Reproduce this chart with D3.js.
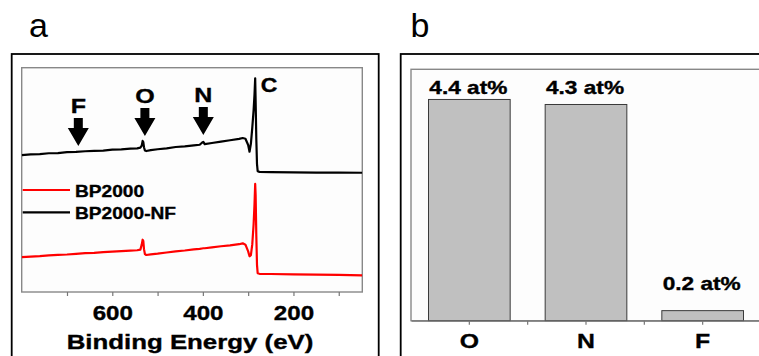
<!DOCTYPE html>
<html>
<head>
<meta charset="utf-8">
<script src="https://cdn.jsdelivr.net/npm/d3@7"></script>
<style>
  html, body { margin: 0; padding: 0; background: #fff; }
  svg { display: block; }
  text { font-family: "Liberation Sans", Arial, Helvetica, sans-serif; fill: #000; }
  text.heavy { stroke: #000; stroke-width: 0.35px; }
</style>
</head>
<body>
<svg id="fig" width="759" height="356"></svg>
<script>
// ---- XPS survey spectra (binding energy in eV, intensity in arbitrary units) ----
const energy = [800, 780, 760, 740, 720, 700, 680, 660, 640, 620, 600, 580, 560, 545, 538, 535, 533, 531.5, 530, 528, 525, 515, 500, 480, 460, 440, 420, 407, 402, 399, 396, 380, 360, 340, 320, 312, 306, 300, 297, 294, 291, 288, 286, 284.5, 283.5, 282, 280.5, 279, 275, 250, 200, 150, 100, 48];
const bp2000nf = [61.0, 61.3, 61.4, 61.8, 61.9, 62.3, 62.4, 62.7, 62.9, 63.0, 63.4, 63.5, 63.9, 64.0, 64.3, 65.2, 67.3, 66.8, 64.5, 63.0, 62.8, 63.2, 63.6, 64.0, 64.6, 64.9, 65.3, 65.6, 66.5, 66.9, 65.9, 66.4, 67.0, 67.6, 68.2, 68.6, 68.3, 65.5, 62.5, 66.0, 73.0, 81.0, 88.0, 95.3, 85.0, 68.0, 57.0, 53.8, 53.5, 53.4, 53.3, 53.2, 53.2, 53.1];
const bp2000 = [15.4, 15.7, 15.9, 16.2, 16.4, 16.6, 16.9, 17.2, 17.3, 17.7, 17.9, 18.1, 18.3, 18.5, 18.8, 21.0, 23.2, 22.6, 19.0, 16.8, 16.4, 16.7, 17.0, 17.5, 18.0, 18.4, 18.9, 19.1, 19.3, 19.4, 19.4, 19.8, 20.3, 20.7, 21.2, 21.6, 21.0, 18.0, 15.8, 16.3, 21.0, 30.0, 39.0, 48.1, 43.0, 25.0, 12.0, 8.3, 8.0, 7.9, 7.7, 7.6, 7.5, 7.3];
const seriesNames = ["BP2000", "BP2000-NF"];
const seriesColors = ["#ff0000", "#000000"];
const energyTicks = [700, 600, 500, 400, 300, 200, 100];
const energyTickLabels = ["", "600", "", "400", "", "200", ""];

// peak markers on the NF spectrum
const markerNames = ["F", "O", "N"];
const markerEnergy = [675, 528, 399];
const markerTip = [65.0, 69.5, 70.0];

// ---- surface composition of BP2000-NF ----
const elements = ["O", "N", "F"];
const atomicPct = [4.4, 4.3, 0.2];

const svg = d3.select("#fig");

// text with a horizontal stretch applied around its anchor
function label(g, str, x, y, opts) {
  const o = Object.assign({ size: 20, weight: "bold", anchor: "middle", sx: 1.2 }, opts || {});
  return g.append("text")
    .attr("class", o.weight === "bold" ? "heavy" : null)
    .attr("transform", `translate(${x},${y}) scale(${o.sx},1)`)
    .attr("text-anchor", o.anchor)
    .attr("font-size", o.size)
    .attr("font-weight", o.weight)
    .text(str);
}

// ================= panel a =================
const A = { left: 21.7, right: 362.3, top: 67.7, bottom: 292.0 };
const pa = svg.append("g");

pa.append("rect").attr("x", 11.7).attr("y", 54).attr("width", 367).attr("height", 400)
  .attr("fill", "#fff").attr("stroke", "#000").attr("stroke-width", 1.8);
pa.append("rect").attr("x", A.left).attr("y", A.top).attr("width", A.right - A.left).attr("height", A.bottom - A.top)
  .attr("fill", "#fdfdfd").attr("stroke", "#888").attr("stroke-width", 1.4);

const xA = d3.scaleLinear().domain([800, 48]).range([A.left, A.right]);
const yA = d3.scaleLinear().domain([0, 100]).range([291.7, 67.7]);

const axA = pa.append("g").attr("transform", `translate(0,${A.bottom})`)
  .call(d3.axisBottom(xA).tickValues(energyTicks).tickSize(4)
    .tickFormat((d, i) => energyTickLabels[i]));
axA.select(".domain").remove();
axA.selectAll(".tick line").attr("stroke", "#777").attr("stroke-width", 1.2);
axA.selectAll(".tick text")
  .attr("class", "heavy")
  .attr("y", 28).attr("dy", 0)
  .attr("font-size", 21).attr("font-weight", "bold")
  .attr("font-family", "Liberation Sans, Arial, sans-serif")
  .attr("fill", "#000")
  .attr("transform", "scale(1.15,1)");

label(pa, "Binding Energy (eV)", (A.left + A.right) / 2 - 2, 348.5, { size: 21, sx: 1.23 });

const line = d3.line().x((d, i) => xA(energy[i])).y(d => yA(d));
pa.append("clipPath").attr("id", "clipA").append("rect")
  .attr("x", A.left).attr("y", A.top).attr("width", A.right - A.left).attr("height", A.bottom - A.top);
const curves = pa.append("g").attr("clip-path", "url(#clipA)");
[bp2000, bp2000nf].forEach((s, k) => {
  curves.append("path").datum(s)
    .attr("d", line)
    .attr("fill", "none")
    .attr("stroke", seriesColors[k])
    .attr("stroke-width", 2.2)
    .attr("stroke-linejoin", "round");
});

// legend
const legY = [190, 212.3];
seriesNames.forEach((n, k) => {
  pa.append("line").attr("x1", 22.7).attr("x2", 70).attr("y1", legY[k]).attr("y2", legY[k])
    .attr("stroke", seriesColors[k]).attr("stroke-width", 2.2);
  label(pa, n, 75, legY[k] + 6.5, { size: 16.5, anchor: "start", sx: 1.16 });
});

// arrows pointing at F, O, N positions
markerNames.forEach((n, k) => {
  const cx = xA(markerEnergy[k]);
  const tip = yA(markerTip[k]);
  const headH = 18, shaftH = 10, headW = 21, shaftW = 9;
  const p = [
    [cx - shaftW / 2, tip - headH - shaftH], [cx + shaftW / 2, tip - headH - shaftH],
    [cx + shaftW / 2, tip - headH], [cx + headW / 2, tip - headH],
    [cx, tip], [cx - headW / 2, tip - headH], [cx - shaftW / 2, tip - headH]
  ];
  pa.append("path").attr("d", d3.line()(p) + "Z").attr("fill", "#000");
  label(pa, n, cx, tip - headH - shaftH - 5, { size: 20, sx: 1.25 });
});

// C 1s label next to the main peak
const cIdx = d3.maxIndex(bp2000nf);
label(pa, "C", xA(energy[cIdx]) + 5.5, yA(bp2000nf[cIdx]) + 14, { size: 20, anchor: "start", sx: 1.15 });

label(pa, "a", 38.5, 37, { size: 34, weight: "normal", sx: 1.0 });

// ================= panel b =================
const B = { left: 411, right: 761, top: 69.3, bottom: 320.7 };
const pb = svg.append("g");

pb.append("rect").attr("x", 400.7).attr("y", 54).attr("width", 400).attr("height", 400)
  .attr("fill", "#fff").attr("stroke", "#000").attr("stroke-width", 1.8);
pb.append("rect").attr("x", B.left).attr("y", B.top).attr("width", 400).attr("height", B.bottom - B.top)
  .attr("fill", "#fdfdfd").attr("stroke", "#888").attr("stroke-width", 1.4);

const xB = d3.scaleBand().domain(elements).range([B.left, B.right]).paddingInner(0.3).paddingOuter(0.15);
const yB = d3.scaleLinear().domain([0, 5]).range([B.bottom, B.top]);

pb.selectAll("rect.bar").data(atomicPct).join("rect")
  .attr("class", "bar")
  .attr("x", (d, i) => xB(elements[i]))
  .attr("y", d => yB(d))
  .attr("width", xB.bandwidth())
  .attr("height", d => yB(0) - yB(d))
  .attr("fill", "#c0c0c0")
  .attr("stroke", "#3a3a3a")
  .attr("stroke-width", 1);

// value labels above bars
const labelGap = [5.5, 10, 20.5];
atomicPct.forEach((v, i) => {
  label(pb, `${v.toFixed(1)} at%`, xB(elements[i]) + xB.bandwidth() / 2 - 1, yB(v) - labelGap[i], { size: 17.7, sx: 1.28 });
});

const axB = pb.append("g").attr("transform", `translate(0,${B.bottom})`)
  .call(d3.axisBottom(xB).tickSize(4).tickSizeOuter(0));
axB.select(".domain").attr("stroke", "#777").attr("stroke-width", 1.2);
axB.selectAll(".tick line").attr("stroke", "#777").attr("stroke-width", 1.2);
axB.selectAll(".tick text")
  .attr("class", "heavy")
  .attr("y", 27.5).attr("dy", 0)
  .attr("font-size", 21).attr("font-weight", "bold")
  .attr("font-family", "Liberation Sans, Arial, sans-serif")
  .attr("fill", "#000")
  .attr("transform", "scale(1.18,1)");
// minor ticks between categories
elements.slice(0, -1).forEach(c => {
  const bx = xB(c) + xB.bandwidth() + xB.step() * xB.paddingInner() / 2;
  axB.append("line").attr("x1", bx).attr("x2", bx).attr("y1", 0).attr("y2", 4)
    .attr("stroke", "#777").attr("stroke-width", 1.2);
});

label(pb, "b", 420, 37, { size: 34, weight: "normal", sx: 1.0 });
</script>
</body>
</html>
